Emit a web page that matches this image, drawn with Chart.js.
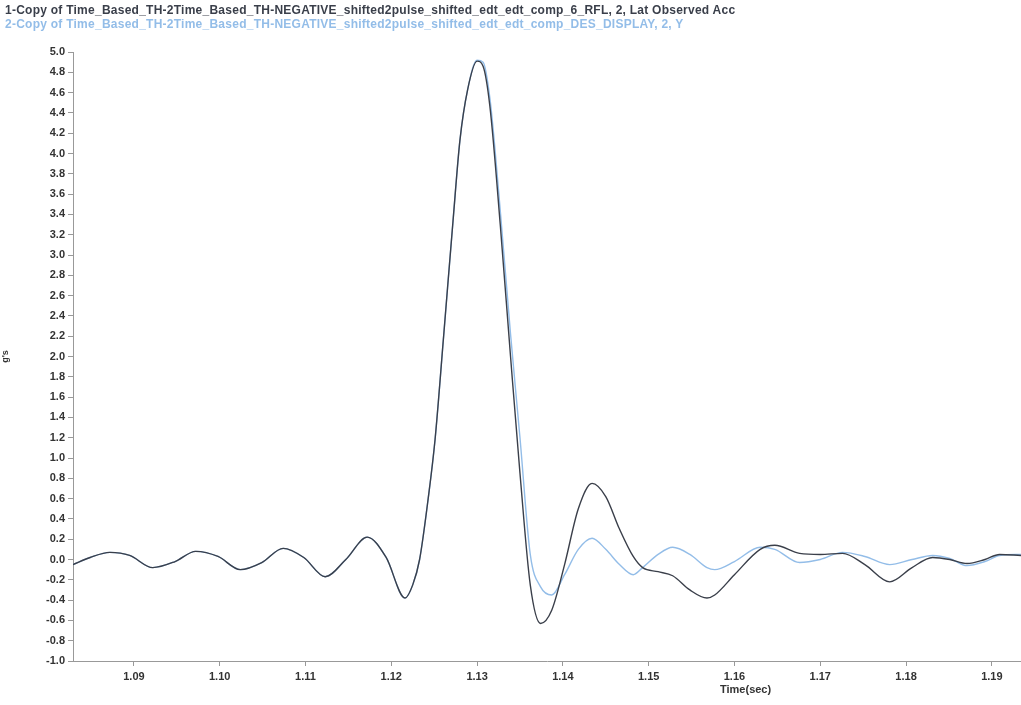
<!DOCTYPE html>
<html>
<head>
<meta charset="utf-8">
<script src="https://cdn.jsdelivr.net/npm/chart.js@4/dist/chart.umd.min.js"></script>
<style>
  html, body { margin: 0; padding: 0; background: #fff; }
  #wrap { position: relative; width: 1021px; height: 705px; }
  #plot { position: absolute; left: 0; top: 0; }
  .hdr { position: absolute; left: 5px; font: bold 12px "Liberation Sans", Arial, sans-serif; white-space: nowrap; letter-spacing: 0.25px; }
  #s1 { top: 3px; color: #3a3f4a; }
  #s2 { top: 17px; color: #93bde8; }
  #xtitle { position: absolute; left: 720px; top: 683px; font: bold 11px "Liberation Sans", Arial, sans-serif; color: #333; }
</style>
</head>
<body>
<div id="wrap">
  <canvas id="plot" width="1021" height="705"></canvas>
  <div class="hdr" id="s1">1-Copy of Time_Based_TH-2Time_Based_TH-NEGATIVE_shifted2pulse_shifted_edt_edt_comp_6_RFL, 2, Lat Observed Acc</div>
  <div class="hdr" id="s2">2-Copy of Time_Based_TH-2Time_Based_TH-NEGATIVE_shifted2pulse_shifted_edt_edt_comp_DES_DISPLAY, 2, Y</div>
  <div id="xtitle">Time(sec)</div>
</div>
<script>
// time samples (sec) shared by both traces
const timeSec = [
  1.0829, 1.0849, 1.0872, 1.0895, 1.0922, 1.0948, 1.0972, 1.0998, 1.1024, 1.1049,
  1.1074, 1.1098, 1.1123, 1.1147, 1.1172, 1.1194, 1.1216, 1.1225, 1.1233, 1.1243,
  1.1251, 1.1261, 1.1272, 1.1280, 1.1289, 1.1300, 1.1307, 1.1315, 1.1327, 1.1339,
  1.1350, 1.1362, 1.1374, 1.1387, 1.1402, 1.1418, 1.1434, 1.1450, 1.1466, 1.1482,
  1.1493, 1.1511, 1.1528, 1.1548, 1.1568, 1.1577, 1.1600, 1.1630, 1.1647, 1.1676,
  1.1700, 1.1726, 1.1752, 1.1781, 1.1807, 1.1831, 1.1851, 1.1871, 1.1892, 1.1909,
  1.1934
];
// 1 - RFL, Lat Observed Acc (g's)
const latObservedAcc = [
  -0.05, 0.02, 0.07, 0.04, -0.08, -0.02, 0.08, 0.03, -0.10, -0.03,
  0.11, 0.02, -0.17, 0.00, 0.22, 0.02, -0.38, -0.25, 0.00, 0.60,
  1.18, 2.20, 3.34, 4.13, 4.63, 4.91, 4.86, 4.46, 3.30, 2.00,
  0.85, -0.25, -0.63, -0.50, -0.05, 0.50, 0.75, 0.62, 0.30, 0.03,
  -0.08, -0.12, -0.16, -0.30, -0.38, -0.35, -0.15, 0.10, 0.14, 0.06,
  0.05, 0.06, -0.05, -0.22, -0.08, 0.02, 0.00, -0.04, 0.00, 0.05,
  0.04
];
// 2 - DES_DISPLAY, Y (g's)
const desDisplayY = [
  -0.05, 0.02, 0.07, 0.04, -0.08, -0.02, 0.08, 0.03, -0.10, -0.03,
  0.11, 0.02, -0.17, 0.00, 0.22, 0.02, -0.38, -0.25, 0.00, 0.60,
  1.18, 2.20, 3.34, 4.13, 4.63, 4.92, 4.90, 4.54, 3.44, 2.22,
  1.20, 0.05, -0.27, -0.35, -0.15, 0.10, 0.21, 0.10, -0.05, -0.15,
  -0.08, 0.05, 0.12, 0.05, -0.08, -0.10, -0.02, 0.12, 0.10, -0.03,
  0.00, 0.07, 0.03, -0.05, 0.00, 0.04, 0.01, -0.06, -0.02, 0.04,
  0.05
];
const xTicks = [1.09, 1.10, 1.11, 1.12, 1.13, 1.14, 1.15, 1.16, 1.17, 1.18, 1.19];
const yTicks = [-1.0, -0.8, -0.6, -0.4, -0.2, 0.0, 0.2, 0.4, 0.6, 0.8, 1.0, 1.2, 1.4, 1.6, 1.8,
  2.0, 2.2, 2.4, 2.6, 2.8, 3.0, 3.2, 3.4, 3.6, 3.8, 4.0, 4.2, 4.4, 4.6, 4.8, 5.0];

const toPoints = ys => timeSec.map((t, i) => ({ x: t, y: ys[i] }));
const tickFont = { family: '"Liberation Sans", Arial, sans-serif', size: 11, weight: 'bold' };

new Chart(document.getElementById('plot'), {
  type: 'line',
  data: {
    datasets: [
      { label: 'Lat Observed Acc', data: toPoints(latObservedAcc), borderColor: '#3a3f4a', borderWidth: 1.4 },
      { label: 'DES_DISPLAY Y', data: toPoints(desDisplayY), borderColor: '#93bde8', borderWidth: 1.4 }
    ]
  },
  options: {
    responsive: false,
    animation: false,
    layout: { padding: { top: 52, right: 0, bottom: 0, left: 0 } },
    elements: { point: { radius: 0 }, line: { cubicInterpolationMode: 'monotone' } },
    plugins: { legend: { display: false }, tooltip: { enabled: false } },
    scales: {
      x: {
        type: 'linear', min: 1.0829, max: 1.1934,
        afterBuildTicks: s => { s.ticks = xTicks.map(v => ({ value: v })); },
        afterFit: s => { s.height = 44; },
        ticks: { font: tickFont, color: '#333', padding: 4, maxRotation: 0, callback: v => v.toFixed(2) },
        grid: { drawOnChartArea: false, tickLength: 5, color: '#999' },
        border: { color: '#999' }
      },
      y: {
        min: -1, max: 5,
        afterBuildTicks: s => { s.ticks = yTicks.map(v => ({ value: v })); },
        afterFit: s => { s.width = 73; },
        ticks: { font: tickFont, color: '#333', padding: 3, callback: v => v.toFixed(1) },
        grid: { drawOnChartArea: false, tickLength: 5, color: '#999' },
        border: { color: '#999' },
        title: { display: true, text: "g's", font: { family: '"Liberation Sans", Arial, sans-serif', size: 9, weight: 'bold' }, color: '#333', padding: 0 }
      }
    }
  }
});
</script>
</body>
</html>
